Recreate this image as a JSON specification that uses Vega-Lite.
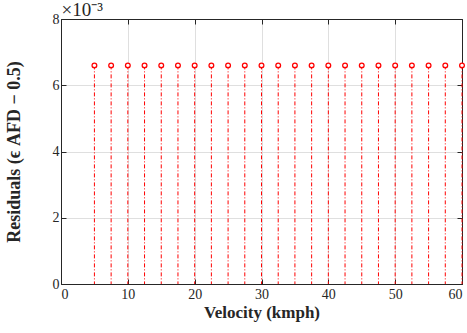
{
  "$schema": "https://vega.github.io/schema/vega-lite/v6.json",
  "autosize": {"type": "none"},
  "width": 401,
  "height": 265,
  "padding": {"left": 61, "top": 19, "right": 5, "bottom": 49},
  "background": "white",
  "config": {
    "view": {"stroke": "#262626", "strokeWidth": 1},
    "axis": {
      "labelFont": "Liberation Serif",
      "titleFont": "Liberation Serif",
      "labelFontSize": 14,
      "titleFontSize": 17,
      "titleFontWeight": "bold",
      "labelColor": "#262626",
      "titleColor": "#262626",
      "domainColor": "#262626",
      "tickColor": "#262626",
      "tickSize": -5,
      "gridColor": "#dfdfdf",
      "gridWidth": 1,
      "labelPadding": 10
    }
  },
  "data": {
    "values": [
      {"velocity": 5, "residual": 0.0066},
      {"velocity": 7.5, "residual": 0.0066},
      {"velocity": 10, "residual": 0.0066},
      {"velocity": 12.5, "residual": 0.0066},
      {"velocity": 15, "residual": 0.0066},
      {"velocity": 17.5, "residual": 0.0066},
      {"velocity": 20, "residual": 0.0066},
      {"velocity": 22.5, "residual": 0.0066},
      {"velocity": 25, "residual": 0.0066},
      {"velocity": 27.5, "residual": 0.0066},
      {"velocity": 30, "residual": 0.0066},
      {"velocity": 32.5, "residual": 0.0066},
      {"velocity": 35, "residual": 0.0066},
      {"velocity": 37.5, "residual": 0.0066},
      {"velocity": 40, "residual": 0.0066},
      {"velocity": 42.5, "residual": 0.0066},
      {"velocity": 45, "residual": 0.0066},
      {"velocity": 47.5, "residual": 0.0066},
      {"velocity": 50, "residual": 0.0066},
      {"velocity": 52.5, "residual": 0.0066},
      {"velocity": 55, "residual": 0.0066},
      {"velocity": 57.5, "residual": 0.0066},
      {"velocity": 60, "residual": 0.0066}
    ]
  },
  "layer": [
    {
      "mark": {"type": "rule", "color": "#ff0000", "strokeWidth": 1, "strokeDash": [4, 2, 1, 2]},
      "encoding": {
        "x": {
          "field": "velocity", "type": "quantitative",
          "scale": {"domain": [0, 60], "nice": false, "zero": false},
          "axis": {"orient": "bottom", "values": [0, 10, 20, 30, 40, 50, 60], "title": "Velocity (kmph)", "titlePadding": 3, "labelPadding": 8}
        },
        "y": {
          "field": "residual", "type": "quantitative",
          "scale": {"domain": [0, 0.008], "nice": false},
          "axis": {"orient": "left", "values": [0, 0.002, 0.004, 0.006, 0.008], "labelExpr": "format(datum.value * 1000, 'd')", "title": "Residuals (ϵ AFD − 0.5)", "titleFontSize": 18, "titlePadding": 29, "labelPadding": 7}
        },
        "y2": {"datum": 0}
      }
    },
    {
      "mark": {"type": "point", "shape": "circle", "color": "#ff0000", "filled": false, "size": 22, "strokeWidth": 1.3, "fill": "white", "fillOpacity": 1},
      "encoding": {
        "x": {
          "field": "velocity", "type": "quantitative",
          "axis": {"orient": "top", "values": [0, 10, 20, 30, 40, 50, 60], "labels": false, "grid": false, "title": "×10⁻³", "titleFontWeight": "normal", "titleFontSize": 19, "titleAnchor": "start", "titleAlign": "left", "titleBaseline": "alphabetic", "titleX": 0, "titleY": -4}
        },
        "y": {
          "field": "residual", "type": "quantitative",
          "axis": {"orient": "right", "values": [0, 0.002, 0.004, 0.006, 0.008], "labels": false, "title": null, "grid": false}
        }
      }
    }
  ],
  "resolve": {"axis": {"x": "independent", "y": "independent"}}
}
